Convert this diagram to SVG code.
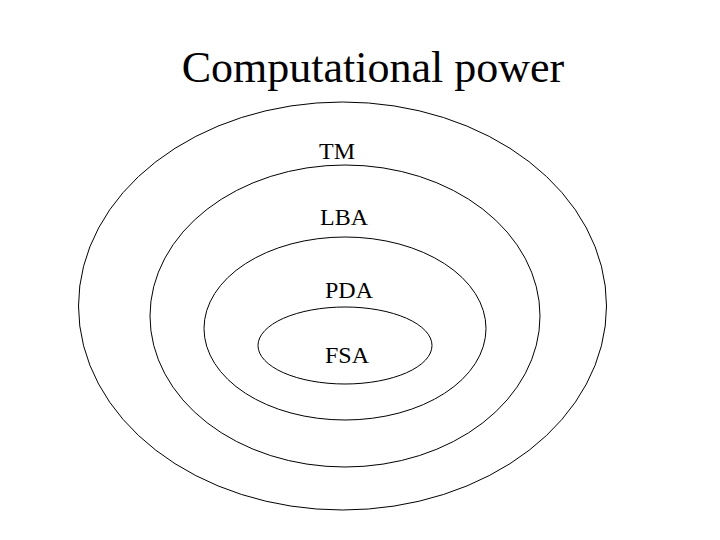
<svg xmlns="http://www.w3.org/2000/svg" width="720" height="540" viewBox="0 0 720 540">
<style>
.e{fill:none;stroke:#000;stroke-width:1}
.t{font-family:"Liberation Serif","Times New Roman",serif;fill:#000}
.l{font-size:24px}
</style>
<rect width="720" height="540" fill="#fff"/>
<text class="t" x="373" y="82" font-size="44" text-anchor="middle">Computational power</text>
<g id="TM"><ellipse class="e" cx="342.5" cy="306" rx="264" ry="204"/><text class="t l" x="319" y="159">TM</text></g>
<g id="LBA"><ellipse class="e" cx="345" cy="316" rx="195" ry="151"/><text class="t l" x="320" y="225">LBA</text></g>
<g id="PDA"><ellipse class="e" cx="345" cy="328.5" rx="141" ry="91.5"/><text class="t l" x="325" y="298">PDA</text></g>
<g id="FSA"><ellipse class="e" cx="345" cy="345.5" rx="87" ry="38.5"/><text class="t l" x="325" y="363">FSA</text></g>
<g id="connectors"/>
</svg>
